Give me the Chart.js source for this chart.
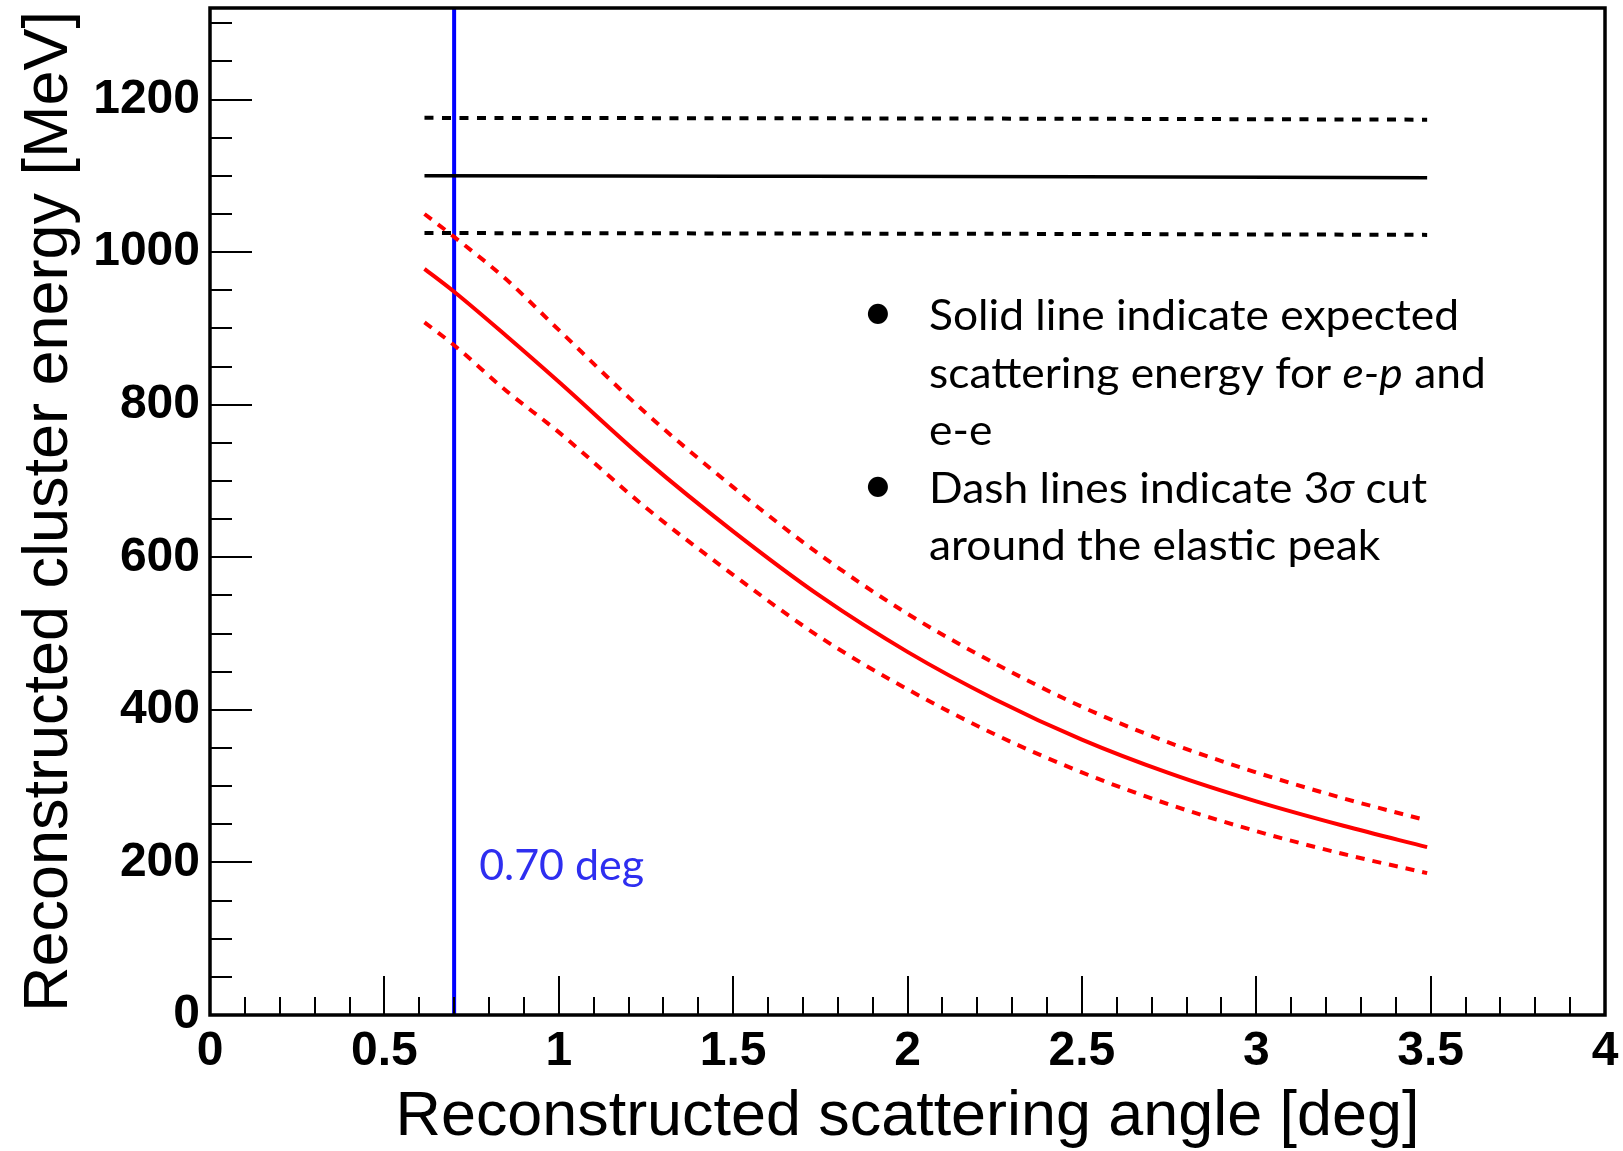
<!DOCTYPE html>
<html><head><meta charset="utf-8">
<script src="https://cdn.jsdelivr.net/npm/chart.js@4.4.1/dist/chart.umd.min.js"></script>
<style>html,body{margin:0;padding:0;background:#fff;} canvas{display:block;}</style>
</head><body>
<canvas id="c" width="1623" height="1151"></canvas>
<script>
// ---- data ----
const angles     = [0.615, 0.70, 0.85, 1.00, 1.25, 1.50, 1.75, 2.00, 2.25, 2.50, 2.75, 3.00, 3.25, 3.49];
const eeCentral  = [978, 948, 890, 830, 727, 634, 549, 476, 414, 361, 317, 280, 248, 220];
const eeUpper    = [1050, 1020, 964, 898, 789, 692, 603, 526, 461, 404, 357, 318, 284, 255];
const eeLower    = [908, 878, 818, 764, 665, 577, 495, 427, 368, 318, 276, 241, 211, 186];
const epAngles   = [0.615, 1.5, 2.5, 3.49];
const epCentral  = [1100, 1099.5, 1098.8, 1097.6];
const epUpper    = [1176, 1175.5, 1174.8, 1173.6];
const epLower    = [1025, 1024.5, 1023.8, 1022.6];
const cutAngle   = 0.70;
const cutLabel   = '0.70 deg';
const xTicks     = [0, 0.5, 1, 1.5, 2, 2.5, 3, 3.5, 4];
const yTicks     = [0, 200, 400, 600, 800, 1000, 1200];
const xTitle     = 'Reconstructed scattering angle [deg]';
const yTitle     = 'Reconstructed cluster energy [MeV]';
const noteLines  = [
  [{t:'Solid line indicate expected'}],
  [{t:'scattering energy for '},{t:'e-p',i:true},{t:' and'}],
  [{t:'e-e'}],
  [{t:'Dash lines indicate 3'},{t:'σ',i:true},{t:' cut'}],
  [{t:'around the elastic peak'}]
];
const noteBullets = [true, false, false, true, false];

// ---- helpers ----
const mctx = document.createElement('canvas').getContext('2d');
function fitSize(text, weight, family, target, base) {
  mctx.font = weight + ' ' + base + 'px ' + family;
  return base * target / mctx.measureText(text).width;
}
const AX = '"Liberation Sans", Arial, sans-serif';
const NOTE = 'Lato, "Open Sans", sans-serif';
const xTitleSize = fitSize(xTitle, 'normal', AX, 1024, 58);
const yTitleSize = fitSize(yTitle, 'normal', AX, 1001, 58);

const pts = (xs, ys) => xs.map((x, i) => ({x: x, y: ys[i]}));

const framePlugin = {
  id: 'frame',
  afterDraw(chart) {
    const {ctx, chartArea: a, scales: {x, y}} = chart;
    ctx.save();
    ctx.strokeStyle = '#000';
    ctx.lineWidth = 2;
    ctx.beginPath();
    for (let v = 0; v <= 1320 + 1e-6; v += 50) {
      const py = Math.round(y.getPixelForValue(v));
      const len = (v % 200 === 0) ? 42 : 22;
      ctx.moveTo(a.left, py); ctx.lineTo(a.left + len, py);
    }
    for (let k = 0; k <= 40; k++) {
      const px = Math.round(x.getPixelForValue(k / 10));
      const len = (k % 5 === 0) ? 39 : 18;
      ctx.moveTo(px, a.bottom); ctx.lineTo(px, a.bottom - len);
    }
    ctx.stroke();
    ctx.lineWidth = 3.5;
    ctx.strokeRect(a.left, a.top, a.right - a.left, a.bottom - a.top);

    // cut label
    ctx.fillStyle = '#2e2ef0';
    ctx.font = 'normal 42px ' + NOTE;
    ctx.textBaseline = 'alphabetic';
    ctx.textAlign = 'left';
    const lx = x.getPixelForValue(cutAngle) + 25;
    ctx.save();
    ctx.translate(lx, 880);
    mctx.font = ctx.font;
    ctx.scale(165 / mctx.measureText(cutLabel).width, 1);
    ctx.fillText(cutLabel, 0, 0);
    ctx.restore();

    // notes
    ctx.fillStyle = '#000';
    const regular = 'normal 42px ' + NOTE, italic = 'italic 42px ' + NOTE;
    mctx.font = regular;
    const sx = 530 / mctx.measureText(noteLines[0][0].t).width;
    const x0 = 929, base0 = 330, step = 57.5;
    noteLines.forEach((segs, li) => {
      const by = base0 + li * step;
      ctx.save();
      ctx.translate(x0, by);
      ctx.scale(sx, 1);
      let cx = 0;
      segs.forEach(s => {
        ctx.font = s.i ? italic : regular;
        ctx.fillText(s.t, cx, 0);
        cx += ctx.measureText(s.t).width;
      });
      ctx.restore();
      if (noteBullets[li]) {
        ctx.font = 'normal 54px ' + NOTE;
        ctx.textAlign = 'center';
        ctx.fillText('•', 878, by);
        ctx.textAlign = 'left';
      }
    });
    ctx.restore();
  }
};

const lineDs = (data, color, width, dash) => ({
  data: data, borderColor: color, borderWidth: width, borderDash: dash || [],
  pointRadius: 0, fill: false, cubicInterpolationMode: 'monotone', showLine: true
});

new Chart(document.getElementById('c'), {
  type: 'scatter',
  data: {
    datasets: [
      lineDs(pts(epAngles, epUpper), '#000', 4, [9, 8.5]),
      lineDs(pts(epAngles, epCentral), '#000', 3.5),
      lineDs(pts(epAngles, epLower), '#000', 4, [9, 8.5]),
      lineDs(pts(angles, eeUpper), '#ff0000', 4, [9, 8]),
      lineDs(pts(angles, eeCentral), '#ff0000', 4),
      lineDs(pts(angles, eeLower), '#ff0000', 4, [9, 8]),
      lineDs([{x: cutAngle, y: 0}, {x: cutAngle, y: 1320}], '#0000ff', 4)
    ]
  },
  options: {
    responsive: false, animation: false, devicePixelRatio: 1,
    layout: {padding: {top: 8, right: 18, left: 0, bottom: 0}},
    plugins: {legend: {display: false}, tooltip: {enabled: false}},
    scales: {
      x: {
        type: 'linear', min: 0, max: 4,
        grid: {display: false, drawTicks: false}, border: {display: false},
        afterBuildTicks: s => { s.ticks = xTicks.map(v => ({value: v})); },
        afterFit: s => { s.height = 136; s.paddingLeft = 0; s.paddingRight = 0; },
        ticks: {
          autoSkip: false, maxRotation: 0, padding: 8, color: '#000',
          font: {family: AX, size: 48, weight: 'bold'},
          callback: v => String(v)
        },
        title: {display: true, text: xTitle, color: '#000',
          font: {family: AX, size: xTitleSize, weight: 'normal', lineHeight: 1},
          padding: {top: 0, bottom: 2}}
      },
      y: {
        type: 'linear', min: 0, max: 1320,
        grid: {display: false, drawTicks: false}, border: {display: false},
        afterBuildTicks: s => { s.ticks = yTicks.map(v => ({value: v})); },
        afterFit: s => { s.width = 210; s.paddingTop = 0; s.paddingBottom = 0; },
        ticks: {
          autoSkip: false, padding: 10, color: '#000',
          font: {family: AX, size: 48, weight: 'bold'},
          callback: v => String(v)
        },
        title: {display: true, text: yTitle, color: '#000',
          font: {family: AX, size: yTitleSize, weight: 'normal', lineHeight: 1.2},
          padding: {top: 12, bottom: 0}}
      }
    }
  },
  plugins: [framePlugin]
});
</script>
</body></html>
